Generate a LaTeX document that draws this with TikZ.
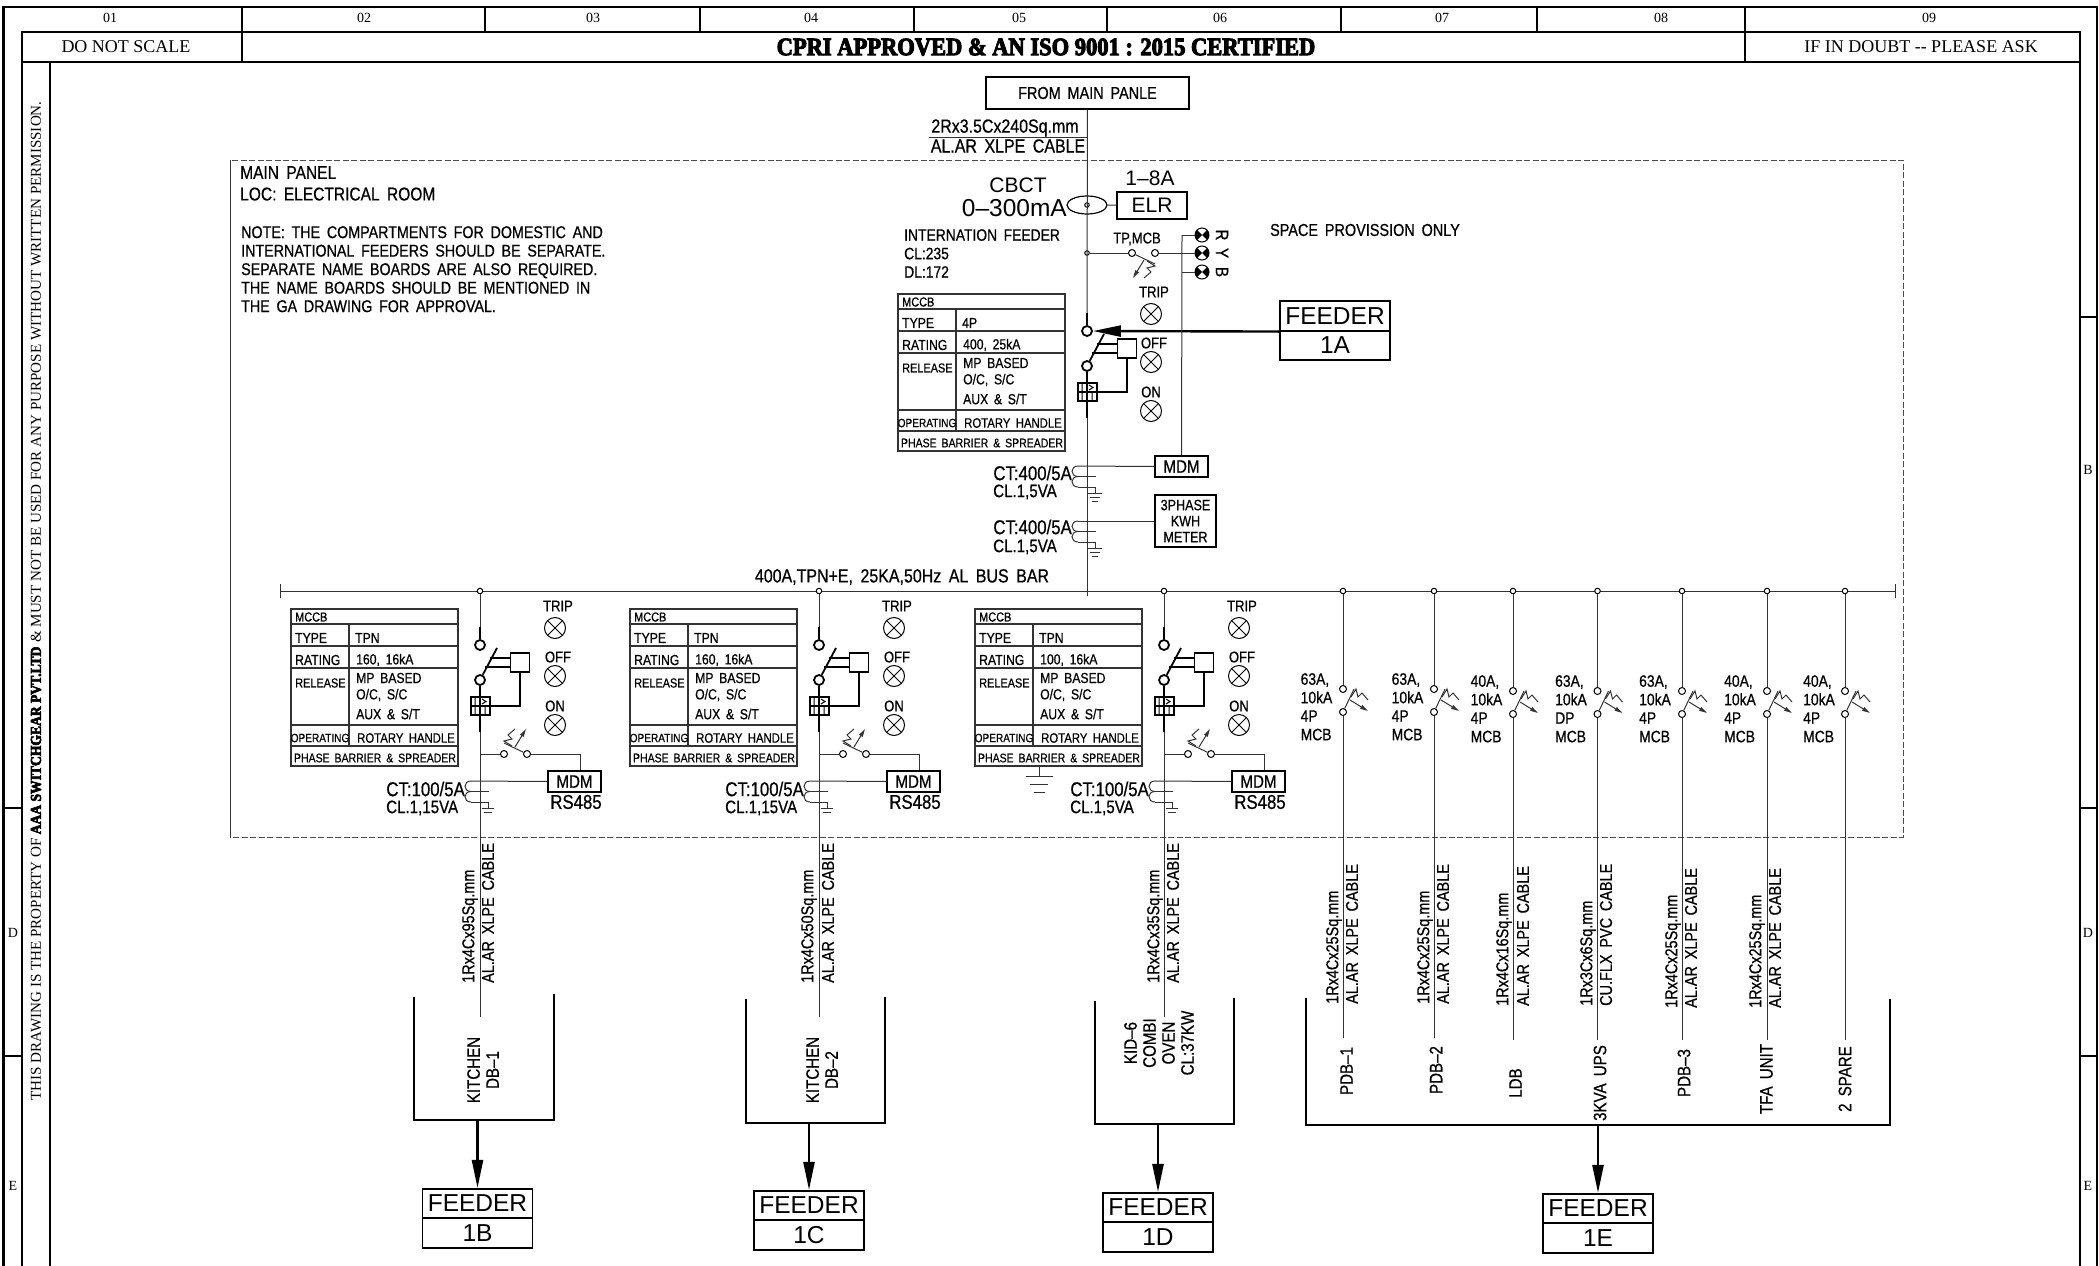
\documentclass[tikz,border=0pt]{standalone}
\usepackage{fontspec}
\usetikzlibrary{arrows.meta, shapes.geometric}
\newfontfamily\cadfont[FakeStretch=0.84,FakeBold=0.6,WordSpace=1.7]{Liberation Sans}
\newfontfamily\cadplain{Liberation Sans}
\newfontfamily\sheetfont{Liberation Serif}
\newfontfamily\titlefont[FakeStretch=0.9,FakeBold=4]{Liberation Serif Bold}

\tikzset{
    wire/.style={line width=1pt, black!80},
    heavy/.style={line width=2.4pt, black},
    frameline/.style={line width=2.6pt, black},
    paneledge/.style={line width=1pt, black!70, dash pattern=on 6pt off 2.5pt},
    feedarrow/.style={heavy, -{Triangle[length=28pt, width=11pt]}},
    cad/.style={inner sep=0pt, font=\cadfont\fontsize{18}{18.5}\selectfont},
    cadslim/.style={cad, font=\cadfont\fontsize{17.2}{18.5}\selectfont},
    cadwide/.style={cad, font=\cadfont\fontsize{19}{20}\selectfont},
    cadct/.style={cad, font=\cadfont\fontsize{20}{20}\selectfont},
    ratelabel/.style={cad, anchor=north west, align=left, font=\cadfont\fontsize{16.5}{18.5}\selectfont},
    tabletext/.style={cad, anchor=west, font=\cadfont\fontsize{14.5}{16}\selectfont},
    smalltable/.style={cad, font=\cadfont\fontsize{12.5}{14}\selectfont},
    lamplabel/.style={cad, font=\cadfont\fontsize{15.5}{16}\selectfont},
    cable/.style={cadslim, rotate=90, anchor=west},
    loadname/.style={cad, rotate=90, align=center, font=\cadfont\fontsize{18}{19}\selectfont},
    bigtext/.style={inner sep=0pt, font=\cadplain\fontsize{21}{24}\selectfont},
    sheet/.style={inner sep=0pt, font=\sheetfont\fontsize{18}{20}\selectfont},
    colnum/.style={inner sep=0pt, font=\sheetfont\fontsize{14}{16}\selectfont},
    cadbox/.style={draw, line width=1.2pt, black, inner sep=0pt, cad},
    feedercell/.style={draw, line width=1.6pt, minimum width=110pt, minimum height=29.5pt, inner sep=0pt, font=\cadplain\fontsize{24.5}{26}\selectfont},
    contact/.style={circle, draw, fill=white, line width=1pt, inner sep=0pt, minimum size=7pt},
    bigcontact/.style={contact, line width=1.8pt, minimum size=10pt},
    busdot/.style={contact, minimum size=5.5pt},
    lamp/.style={circle, draw, line width=1pt, inner sep=0pt, minimum size=21pt, path picture={\draw[line width=1pt] (path picture bounding box.north west) -- (path picture bounding box.south east) (path picture bounding box.north east) -- (path picture bounding box.south west);}},
    pilot/.style={circle, draw, line width=1pt, inner sep=0pt, minimum size=14pt, path picture={\fill (path picture bounding box.north west) -- (path picture bounding box.south west) -- (path picture bounding box.north east) -- (path picture bounding box.south east) -- cycle;}},
    tripbox/.style={draw, line width=1.8pt, fill=white, inner sep=0pt, minimum width=19pt, minimum height=19pt},
    relay/.style={draw, line width=2pt, fill=white, inner sep=0pt, minimum width=19pt, minimum height=18pt, path picture={\draw[line width=1.6pt] (path picture bounding box.west) -- (path picture bounding box.east) (path picture bounding box.north) -- (path picture bounding box.south); \draw[line width=1pt] ([xshift=2pt,yshift=-2pt]path picture bounding box.north) -- ([xshift=6pt,yshift=-4.5pt]path picture bounding box.north) -- ([xshift=2pt,yshift=-7pt]path picture bounding box.north) ([xshift=-5pt]path picture bounding box.north) -- ([xshift=-5pt,yshift=-8pt]path picture bounding box.north) ([xshift=-5pt]path picture bounding box.south) -- ([xshift=-5pt,yshift=8pt]path picture bounding box.south) ([xshift=5pt]path picture bounding box.south) -- ([xshift=5pt,yshift=8pt]path picture bounding box.south);}},
}

\newcommand{\mccbtable}[5]{
    \begin{scope}[shift={(#2,#3)}]
        \draw[wire, line width=1.2pt] (-189,0) rectangle (-22,157);
        \draw[wire, line width=1.2pt] (-189,15) -- (-22,15);
        \draw[wire, line width=1.2pt] (-189,37) -- (-22,37);
        \draw[wire, line width=1.2pt] (-189,59) -- (-22,59);
        \draw[wire, line width=1.2pt] (-189,116) -- (-22,116);
        \draw[wire, line width=1.2pt] (-189,137) -- (-22,137);
        \draw[wire, line width=1.2pt] (-131,15) -- (-131,137);
        \node[tabletext, font=\cadfont\fontsize{13}{14}\selectfont] at (-185,8) (#1head) {MCCB};
        \node[tabletext] at (-185,29) (#1typekey) {TYPE};
        \node[tabletext] at (-125,29) (#1typeval) {#4};
        \node[tabletext] at (-185,51) (#1ratekey) {RATING};
        \node[tabletext] at (-124,51) (#1rateval) {#5};
        \node[tabletext, font=\cadfont\fontsize{13}{14}\selectfont] at (-185,74) (#1relkey) {RELEASE};
        \node[tabletext] at (-124,69) (#1relone) {MP BASED};
        \node[tabletext] at (-124,86) (#1reltwo) {O/C, S/C};
        \node[tabletext] at (-124,105) (#1relthree) {AUX \& S/T};
        \node[smalltable, font=\cadfont\fontsize{12}{14}\selectfont] at (-160,129) (#1opkey) {OPERATING};
        \node[smalltable, anchor=west, font=\cadfont\fontsize{13.5}{14}\selectfont] at (-123,129) (#1opval) {ROTARY HANDLE};
        \node[smalltable] at (-105,149) (#1phase) {PHASE BARRIER \& SPREADER};
    \end{scope}
}

\newcommand{\breaker}[5]{
    \begin{scope}[shift={(#2,#3)}]
        \coordinate (#1stub) at (0,-18);
        \coordinate (#1tail) at (0,87);
        \coordinate (#1tip) at (17,3);
        \node[bigcontact] at (0,0) (#1a) {};
        \node[bigcontact] at (0,35) (#1b) {};
        \node[tripbox] at (40,17.5) (#1c) {};
        \node[relay] at (0,61) (#1r) {};
        \draw[heavy] (#1stub) -- (#1a);
        \draw[heavy, line width=1.8pt] (#1b) -- (#1tip);
        \draw[heavy, line width=1.8pt] (10,13) -- (30,13);
        \draw[heavy, line width=1.8pt] (5,22) -- (30,22);
        \draw[heavy, line width=1.8pt] (#1c) -- (40,61) -- (#1r);
        \draw[heavy] (#1b) -- (#1r);
        \draw[heavy] (#1r) -- (#1tail);
        \node[lamp] at (#4,-17) (#1trip) {};
        \node[lamp] at (#4,31) (#1off) {};
        \node[lamp] at (#4,80) (#1on) {};
        \node[lamplabel] at (#5,-39) (#1triptxt) {TRIP};
        \node[lamplabel] at (#5,12) (#1offtxt) {OFF};
        \node[lamplabel] at (#4,61) (#1ontxt) {ON};
    \end{scope}
}

\newcommand{\mcbsym}[4]{
    \begin{scope}[shift={(#2,#3)}, rotate=#4]
        \node[contact] at (0,0) (#1a) {};
        \node[contact] at (23,0) (#1b) {};
        \draw[wire] (#1a) -- (23,11);
        \draw[wire, -{Triangle[length=8pt, width=4pt]}] (12,7) -- (1,25);
        \draw[wire] (15,8) -- (23,13) -- (15,15) -- (19,19) -- (12,25);
    \end{scope}
}

\newcommand{\ctcoil}[3]{
    \begin{scope}[shift={(#2,#3)}]
        \coordinate (#1top) at (-9,0);
        \coordinate (#1mid) at (-9,10.5);
        \coordinate (#1bot) at (-9,21);
        \coordinate (#1earth) at (8,21);
        \coordinate (#1stem) at (8,27);
        \draw[wire] (#1top) .. controls (-17,0) and (-17,10.5) .. (#1mid);
        \draw[wire] (#1mid) .. controls (-17,10.5) and (-17,21) .. (#1bot);
        \draw[wire] (#1mid) -- (9,10.5);
        \draw[wire] (#1bot) -- (#1earth) -- (#1stem);
    \end{scope}
}

\newcommand{\feedercolumn}[4]{
    \node[busdot] at (#2,591) (#1bus) {};
    \coordinate (#1end) at (#2,#4);
    \mcbsym{#1}{#2}{#3}{90}
    \draw[wire] (#1bus) -- (#1b);
    \draw[wire] (#1a) -- (#1end);
}

\newcommand{\branchunit}[4]{
    \node[busdot] at (#2,591) (#1bus) {};
    \mccbtable{#1}{#2}{609}{TPN}{#3}
    \breaker{#1}{#2}{645}{75}{78}
    \draw[wire] (#1bus) -- (#1stub);
    \begin{scope}[shift={(#2,0)}]
        \coordinate (#1end) at (0,1017);
        \coordinate (#1tap) at (0,754);
        \coordinate (#1corner) at (100,754);
        \node[cadbox, minimum width=53pt, minimum height=21pt] at (94.5,781.5) (#1mdm) {MDM};
        \node[cadct] at (96,802) (#1rs) {RS485};
        \node[cadct, anchor=east] at (-15,789) (#1ctval) {CT:100/5A};
        \node[cad, anchor=west] at (-94,808) (#1ctcl) {#4};
        \mcbsym{#1s}{47}{754}{180}
    \end{scope}
    \draw[wire] (#1tail) -- (#1end);
    \draw[wire] (#1tap) -- (#1sb);
    \draw[wire] (#1sa) -- (#1corner) -- (#1mdm.north -| #1corner);
    \ctcoil{#1ct}{#2}{781}
    \draw[wire] (#1cttop) -- (#1mdm.west);
    \draw[wire] ([xshift=-6pt]#1ctstem) -- ([xshift=6pt]#1ctstem);
    \draw[wire] ([xshift=-4pt,yshift=-4pt]#1ctstem) -- ([xshift=4pt,yshift=-4pt]#1ctstem);
}

\begin{document}
\begin{tikzpicture}[x=1pt, y=-1pt]
            \useasboundingbox (0, 0) rectangle (2099, 1266);

            \draw[frameline] (3.5, 1266) -- (3.5, 7) -- (2097, 7) -- (2097, 1266);
            \draw[frameline] (22, 1266) -- (22, 32) -- (2080, 32) -- (2080, 1266);
            \draw[frameline] (22, 62) -- (2080, 62);
            \draw[frameline] (50, 62) -- (50, 1266);
            \draw[frameline] (3.5, 808) -- (22, 808);
            \draw[frameline] (3.5, 1056) -- (22, 1056);
            \draw[frameline] (2080, 317) -- (2097, 317);
            \draw[frameline] (2080, 808) -- (2097, 808);
            \draw[frameline] (2080, 1056) -- (2097, 1056);
            \draw[frameline] (242, 7) -- (242, 62);
            \draw[frameline] (1745, 7) -- (1745, 62);
            \draw[frameline] (485, 7) -- (485, 32);
            \draw[frameline] (700, 7) -- (700, 32);
            \draw[frameline] (914, 7) -- (914, 32);
            \draw[frameline] (1107, 7) -- (1107, 32);
            \draw[frameline] (1341, 7) -- (1341, 32);
            \draw[frameline] (1537, 7) -- (1537, 32);

            \node[colnum] at (110, 18)  (col1) {01};
            \node[colnum] at (364, 18)  (col2) {02};
            \node[colnum] at (593, 18)  (col3) {03};
            \node[colnum] at (811, 18)  (col4) {04};
            \node[colnum] at (1019, 18) (col5) {05};
            \node[colnum] at (1220, 18) (col6) {06};
            \node[colnum] at (1442, 18) (col7) {07};
            \node[colnum] at (1661, 18) (col8) {08};
            \node[colnum] at (1929, 18) (col9) {09};
            \node[colnum] at (2088, 470)  (rowbr) {B};
            \node[colnum] at (2088, 933)  (rowdr) {D};
            \node[colnum] at (2088, 1186) (rower) {E};
            \node[colnum] at (13, 933)  (rowdl) {D};
            \node[colnum] at (13, 1186) (rowel) {E};

            \node[sheet] at (126, 47)  (noscale) {DO NOT SCALE};
            \node[inner sep=0pt, font=\titlefont\fontsize{25}{27}\selectfont] at (1046, 47) (approved) {CPRI APPROVED \& AN ISO 9001 : 2015 CERTIFIED};
            \node[sheet] at (1921, 47) (askus) {IF IN DOUBT -- PLEASE ASK};
            \node[inner sep=0pt, rotate=90, font=\sheetfont\fontsize{15.1}{16}\selectfont] at (36, 601) (notice) {THIS DRAWING IS THE PROPERTY OF {\titlefont AAA SWITCHGEAR PVT.LTD} \& MUST NOT BE USED FOR ANY PURPOSE WITHOUT WRITTEN PERMISSION.};

            \draw[paneledge] (230, 160) rectangle (1903, 837);
            \coordinate (paneltop) at (230, 160);
            \coordinate (panelfoot) at (230, 837);
            \draw[wire] (paneltop) -- (panelfoot);
            \node[cad, anchor=north west, align=left, font=\cadfont\fontsize{18.5}{20}\selectfont] at (240, 166) (panelname) {MAIN PANEL\\[1.5pt]LOC: ELECTRICAL ROOM};
            \node[cadslim, anchor=north west, align=left, font=\cadfont\fontsize{17}{18.5}\selectfont] at (241, 226) (panelnote) {NOTE: THE COMPARTMENTS FOR DOMESTIC AND\\INTERNATIONAL FEEDERS SHOULD BE SEPARATE.\\SEPARATE NAME BOARDS ARE ALSO REQUIRED.\\THE NAME BOARDS SHOULD BE MENTIONED IN\\THE GA DRAWING FOR APPROVAL.};
            \node[cadslim] at (1365, 230) (spaceonly) {SPACE PROVISSION ONLY};

            \node[cadbox, cadslim, minimum width=203pt, minimum height=32pt] at (1087.5, 93) (frompanel) {FROM MAIN PANLE};
            \node[cadwide] at (1005, 128) (mainsize) {2Rx3.5Cx240Sq.mm};
            \node[cadwide] at (1008, 146) (maintype) {AL.AR XLPE CABLE};
            \coordinate (mainrule) at (929, 137.5);
            \coordinate (mainhit) at (1087, 137.5);
            \draw[wire] (mainrule) -- (mainhit);

            \node[bigtext] at (1018, 185) (cbct) {CBCT};
            \node[bigtext, anchor=east, font=\cadplain\fontsize{24.5}{26}\selectfont] at (1067, 208) (cbctrange) {0–300mA};
            \node[draw, ellipse, line width=1.2pt, minimum width=40pt, minimum height=18pt, inner sep=0pt] at (1087, 205) (cbctcore) {};
            \node[busdot, minimum size=4.5pt] at (1087, 205) (cbcthit) {};
            \node[cadbox, bigtext, minimum width=70pt, minimum height=27pt] at (1152, 205.5) (elr) {ELR};
            \node[bigtext] at (1150, 178) (elrrange) {1–8A};
            \draw[wire] (cbctcore) -- (elr);

            \node[ratelabel, font=\cadfont\fontsize{16.5}{18.5}\selectfont] at (904, 229) (intfeeder) {INTERNATION FEEDER\\CL:235\\DL:172};
            \node[lamplabel] at (1137, 239) (tpmcb) {TP,MCB};
            \node[busdot, minimum size=4.5pt] at (1087, 253) (tphit) {};
            \mcbsym{tp}{1132}{253}{0}
            \draw[wire] (tphit) -- (tpa);

            \coordinate (pilotrise) at (1182, 235);
            \coordinate (pilotjoin) at (1182, 272);
            \node[pilot] at (1202, 235) (pilotr) {};
            \node[pilot] at (1202, 253) (piloty) {};
            \node[pilot] at (1202, 272) (pilotb) {};
            \node[cad, rotate=-90] at (1222, 235) (phaser) {R};
            \node[cad, rotate=-90] at (1222, 253) (phasey) {Y};
            \node[cad, rotate=-90] at (1222, 272) (phaseb) {B};
            \draw[wire] (pilotr) -- (pilotrise);
            \draw[wire] (tpb) -- (piloty);
            \draw[wire] (pilotb) -- (pilotjoin);

            \mccbtable{main}{1087}{294}{4P}{400, 25kA}
            \breaker{main}{1087}{331}{64}{67}
            \draw[wire] (frompanel) -- (mainstub);

            \node[feedercell] at (1335, 316) (feedaa) {FEEDER};
            \node[feedercell] at (1335, 345.5) (feedab) {1A};
            \draw[feedarrow] (feedaa.south west) -- (maina);

            \node[cadbox, minimum width=53pt, minimum height=21pt] at (1181.5, 466.5) (mainmdm) {MDM};
            \draw[wire] (pilotrise) -- (mainmdm);
            \node[cadbox, minimum width=61pt, minimum height=52pt, align=center, font=\cadfont\fontsize{15}{16}\selectfont] at (1185.5, 521) (kwhmeter) {3PHASE\\KWH\\METER};

            \node[cadct, anchor=east] at (1072, 473) (cta) {CT:400/5A};
            \node[cad, anchor=west] at (993, 492) (cla) {CL.1,5VA};
            \ctcoil{cta}{1087}{466}
            \draw[wire] (ctatop) -- (mainmdm.west);
            \draw[wire] ([xshift=-7pt]ctastem) -- ([xshift=7pt]ctastem);
            \draw[wire] ([xshift=-5pt,yshift=-4pt]ctastem) -- ([xshift=5pt,yshift=-4pt]ctastem);
            \draw[wire] ([xshift=-3pt,yshift=-8pt]ctastem) -- ([xshift=3pt,yshift=-8pt]ctastem);

            \node[cadct, anchor=east] at (1072, 527) (ctb) {CT:400/5A};
            \node[cad, anchor=west] at (993, 547) (clb) {CL.1,5VA};
            \ctcoil{ctb}{1087}{521}
            \draw[wire] (ctbtop) -- (kwhmeter.west);
            \draw[wire] ([xshift=-7pt]ctbstem) -- ([xshift=7pt]ctbstem);
            \draw[wire] ([xshift=-5pt,yshift=-4pt]ctbstem) -- ([xshift=5pt,yshift=-4pt]ctbstem);
            \draw[wire] ([xshift=-3pt,yshift=-8pt]ctbstem) -- ([xshift=3pt,yshift=-8pt]ctbstem);

            \coordinate (busleft) at (280, 591);
            \coordinate (busright) at (1895, 591);
            \coordinate (busdrop) at (1087, 596);
            \draw[wire] (busleft) -- (busright);
            \draw[wire] ([yshift=7pt]busleft) -- ([yshift=-7pt]busleft);
            \draw[wire] ([yshift=7pt]busright) -- ([yshift=-7pt]busright);
            \draw[wire] (maintail) -- (busdrop);
            \node[cadwide] at (902, 577) (busrating) {400A,TPN+E, 25KA,50Hz AL BUS BAR};

            \branchunit{kita}{480}{160, 16kA}{CL.1,15VA}
            \branchunit{kitb}{819}{160, 16kA}{CL.1,15VA}
            \branchunit{oven}{1164}{100, 16kA}{CL.1,5VA}

            \coordinate (tabearth) at (1020, 766);
            \coordinate (tabdrop) at (1039, 776);
            \draw[wire] (tabearth) -- (1039, 766) -- (tabdrop);
            \draw[wire] ([xshift=-13pt]tabdrop) -- ([xshift=14pt]tabdrop);
            \draw[wire] ([xshift=-9pt,yshift=-8pt]tabdrop) -- ([xshift=9pt,yshift=-8pt]tabdrop);
            \draw[wire] ([xshift=-5pt,yshift=-16pt]tabdrop) -- ([xshift=6pt,yshift=-16pt]tabdrop);

            \feedercolumn{pdba}{1343}{712}{1038}
            \feedercolumn{pdbb}{1434}{712}{1038}
            \feedercolumn{ldb}{1513}{714}{1040}
            \feedercolumn{ups}{1597.5}{714}{1040}
            \feedercolumn{pdbc}{1682}{714}{1040}
            \feedercolumn{tfa}{1767}{714}{1040}
            \feedercolumn{spare}{1845}{714}{1040}

            \node[ratelabel] at (1300.5, 673) (ratea) {63A,\\10kA\\4P\\MCB};
            \node[ratelabel] at (1391.5, 673) (rateb) {63A,\\10kA\\4P\\MCB};
            \node[ratelabel] at (1470.5, 675) (ratec) {40A,\\10kA\\4P\\MCB};
            \node[ratelabel] at (1555, 675) (rated) {63A,\\10kA\\DP\\MCB};
            \node[ratelabel] at (1639, 675) (ratee) {63A,\\10kA\\4P\\MCB};
            \node[ratelabel] at (1724, 675) (ratef) {40A,\\10kA\\4P\\MCB};
            \node[ratelabel] at (1803, 675) (rateg) {40A,\\10kA\\4P\\MCB};

            \node[cable] at (470, 983)  (sizekita) {1Rx4Cx95Sq.mm};
            \node[cable] at (488, 983)  (typekita) {AL.AR XLPE CABLE};
            \node[cable] at (809, 983)  (sizekitb) {1Rx4Cx50Sq.mm};
            \node[cable] at (828, 983)  (typekitb) {AL.AR XLPE CABLE};
            \node[cable] at (1155, 983) (sizeoven) {1Rx4Cx35Sq.mm};
            \node[cable] at (1173, 983) (typeoven) {AL.AR XLPE CABLE};
            \node[cable] at (1334, 1004) (sizepdba) {1Rx4Cx25Sq.mm};
            \node[cable] at (1352, 1004) (typepdba) {AL.AR XLPE CABLE};
            \node[cable] at (1425, 1004) (sizepdbb) {1Rx4Cx25Sq.mm};
            \node[cable] at (1443, 1004) (typepdbb) {AL.AR XLPE CABLE};
            \node[cable] at (1504, 1006) (sizeldb) {1Rx4Cx16Sq.mm};
            \node[cable] at (1523, 1006) (typeldb) {AL.AR XLPE CABLE};
            \node[cable] at (1588, 1006) (sizeups) {1Rx3Cx6Sq.mm};
            \node[cable] at (1606, 1006) (typeups) {CU.FLX PVC CABLE};
            \node[cable] at (1673, 1008) (sizepdbc) {1Rx4Cx25Sq.mm};
            \node[cable] at (1691, 1008) (typepdbc) {AL.AR XLPE CABLE};
            \node[cable] at (1757, 1008) (sizetfa) {1Rx4Cx25Sq.mm};
            \node[cable] at (1775, 1008) (typetfa) {AL.AR XLPE CABLE};

            \node[loadname] at (483, 1070)  (loadkita) {KITCHEN\\DB–1};
            \node[loadname] at (822, 1070)  (loadkitb) {KITCHEN\\DB–2};
            \node[loadname] at (1159, 1043) (loadoven) {KID–6\\COMBI\\OVEN\\CL:37KW};
            \node[loadname] at (1346.5, 1071) (loadpdba) {PDB–1};
            \node[loadname] at (1436, 1070)   (loadpdbb) {PDB–2};
            \node[loadname] at (1515.5, 1083) (loadldb)  {LDB};
            \node[loadname] at (1600, 1083)   (loadups)  {3KVA UPS};
            \node[loadname] at (1684, 1073)   (loadpdbc) {PDB–3};
            \node[loadname] at (1766.5, 1079) (loadtfa)  {TFA UNIT};
            \node[loadname] at (1845, 1079)   (loadspare) {2 SPARE};

            \coordinate (bina) at (477.5, 1120);
            \coordinate (binb) at (809, 1123);
            \coordinate (binc) at (1158, 1124);
            \coordinate (bind) at (1598, 1125);
            \draw[heavy] (414, 997) -- (414, 1120) -- (554, 1120) -- (554, 994);
            \draw[heavy] (746, 999) -- (746, 1123) -- (885, 1123) -- (885, 997);
            \draw[heavy] (1095, 1001) -- (1095, 1124) -- (1234, 1124) -- (1234, 998);
            \draw[heavy] (1306, 998) -- (1306, 1125) -- (1890, 1125) -- (1890, 999);

            \node[feedercell] at (477.5, 1203.5) (feedba) {FEEDER};
            \node[feedercell] at (477.5, 1233)   (feedbb) {1B};
            \node[feedercell] at (809, 1205.5)   (feedca) {FEEDER};
            \node[feedercell] at (809, 1235)     (feedcb) {1C};
            \node[feedercell] at (1158, 1207.5)  (feedda) {FEEDER};
            \node[feedercell] at (1158, 1237)    (feeddb) {1D};
            \node[feedercell] at (1598, 1208.5)  (feedea) {FEEDER};
            \node[feedercell] at (1598, 1238)    (feedeb) {1E};

            \draw[feedarrow] (bina) -- (feedba);
            \draw[feedarrow] (binb) -- (feedca);
            \draw[feedarrow] (binc) -- (feedda);
            \draw[feedarrow] (bind) -- (feedea);
\end{tikzpicture}
\end{document}
